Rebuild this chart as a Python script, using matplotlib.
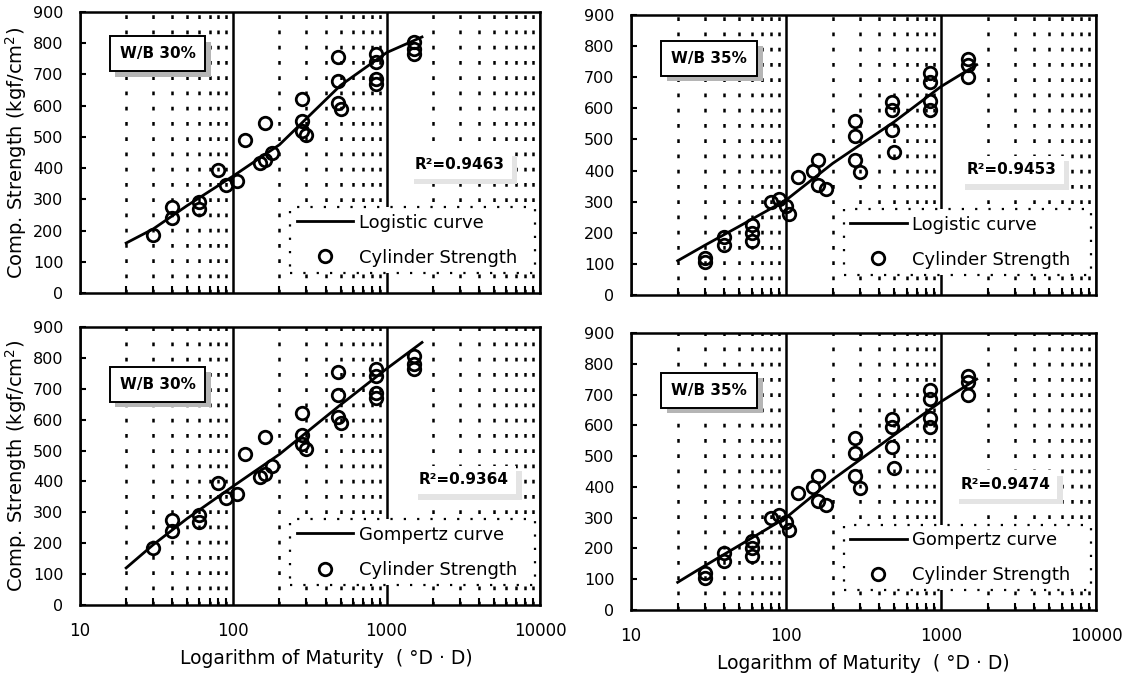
import matplotlib
matplotlib.use("Agg")
import matplotlib.pyplot as plt
import matplotlib.patheffects as pe
from matplotlib.ticker import LogLocator, NullFormatter, FixedLocator

plt.rcParams['font.family'] = ['DejaVu Sans']

maturity_30 = [30, 40, 40, 60, 60, 80, 90, 105, 120, 150, 160, 160, 180,
               280, 280, 280, 300, 480, 480, 480, 500, 850, 850, 850, 850,
               1500, 1500, 1500]
strength_30 = [185, 275, 240, 290, 270, 395, 345, 360, 490, 415, 545, 425, 450,
               620, 550, 520, 505, 755, 680, 610, 590, 765, 740, 685, 670,
               805, 780, 765]

maturity_35 = [30, 30, 40, 40, 60, 60, 60, 80, 90, 100, 105, 120, 150, 160, 160,
               180, 280, 280, 280, 300, 480, 480, 480, 500, 850, 850, 850, 850,
               1500, 1500, 1500]
strength_35 = [120, 105, 185, 160, 225, 200, 175, 300, 310, 285, 260, 380, 400,
               435, 355, 340, 560, 510, 435, 395, 620, 595, 530, 460, 715, 685,
               625, 595, 760, 740, 700]

# fitted curves
curve_x = [20, 30, 50, 100, 200, 500, 1000, 1700]
logistic_30 = [160, 205, 280, 375, 475, 665, 770, 820]
logistic_35 = [110, 160, 221, 305, 423, 557, 670, 740]
gompertz_30 = [120, 195, 280, 385, 488, 648, 765, 850]
gompertz_35 = [90, 144, 210, 300, 424, 569, 677, 750]

W, H = 1136, 675
fig = plt.figure(figsize=(W / 100, H / 100), dpi=100)

PANELS = [
    # box = (left, top, right, bottom) in pixels
    dict(box=(80, 12, 540, 293), mx=maturity_30, sy=strength_30, cy=logistic_30,
         curve="Logistic curve", wb="W/B 30%", wb_y=767, r2="R²=0.9463", r2_xy=(3000, 412),
         xlabels=False, ylabel=True),
    dict(box=(631, 15, 1096, 295), mx=maturity_35, sy=strength_35, cy=logistic_35,
         curve="Logistic curve", wb="W/B 35%", wb_y=761, r2="R²=0.9453", r2_xy=(2860, 402),
         xlabels=False, ylabel=False),
    dict(box=(80, 327, 540, 605), mx=maturity_30, sy=strength_30, cy=gompertz_30,
         curve="Gompertz curve", wb="W/B 30%", wb_y=715, r2="R²=0.9364", r2_xy=(3200, 405),
         xlabels=True, ylabel=True),
    dict(box=(631, 333, 1096, 610), mx=maturity_35, sy=strength_35, cy=gompertz_35,
         curve="Gompertz curve", wb="W/B 35%", wb_y=714, r2="R²=0.9474", r2_xy=(2610, 408),
         xlabels=True, ylabel=False),
]


def label_box(ax, x, y, s, box_ec, shadow_fc, pad):
    t = ax.text(x, y, s, ha='center', va='center', fontsize=11, fontweight='bold',
                zorder=7, bbox=dict(boxstyle=f'square,pad={pad}', fc='white',
                                    ec=box_ec, lw=1.4))
    t.get_bbox_patch().set_path_effects([
        pe.SimplePatchShadow(offset=(4, -4), shadow_rgbFace=shadow_fc, alpha=1),
        pe.Normal()])


for p in PANELS:
    l, t, r, b = p["box"]
    ax = fig.add_axes([l / W, 1 - b / H, (r - l) / W, (b - t) / H])
    ax.set_xscale('log')
    ax.set_xlim(10, 10000)
    ax.set_ylim(0, 900)
    ax.set_yticks(range(0, 901, 100))
    ax.xaxis.set_major_locator(FixedLocator([10, 100, 1000, 10000]))
    ax.xaxis.set_minor_locator(LogLocator(base=10, subs=range(2, 10)))
    ax.xaxis.set_minor_formatter(NullFormatter())
    if p["xlabels"]:
        ax.set_xticklabels(['10', '100', '1000', '10000'])
        ax.set_xlabel('Logarithm of Maturity  ( °D · D)', fontsize=13.5)
        ax.xaxis.set_label_coords(0.535 if p["ylabel"] else 0.5, -0.16)
    else:
        ax.set_xticklabels([])
    ax.tick_params(axis='x', which='both', direction='in', top=False, labelsize=12, pad=12)
    ax.tick_params(axis='x', which='minor', length=5, width=1.5)
    ax.tick_params(axis='x', which='major', length=0)
    ax.tick_params(axis='y', direction='in', length=4, width=1.5, labelsize=11.5, pad=12)
    if p["ylabel"]:
        ax.set_ylabel('Comp. Strength (kgf/cm$^2$)', fontsize=14, labelpad=3)
    for sp in ax.spines.values():
        sp.set_linewidth(1.8)

    ax.grid(which='minor', axis='x', color='black', linestyle=(0, (1.5, 4.6)), lw=1.8)
    ax.grid(which='major', axis='x', color='black', linestyle='-', lw=1.8)
    ax.set_axisbelow(True)

    ax.plot(curve_x, p["cy"], color='black', lw=2, label=p["curve"], zorder=3)
    ax.plot(p["mx"], p["sy"], linestyle='none', marker='o', ms=9, mfc='none',
            mec='black', mew=2, label='Cylinder Strength', zorder=4)

    label_box(ax, 32, p["wb_y"], p["wb"], 'black', '#b5b5b5', 0.65)
    label_box(ax, p["r2_xy"][0], p["r2_xy"][1], p["r2"], 'none', '#e4e4e4', 0.45)

    leg = ax.legend(loc='lower left', bbox_to_anchor=(0.457, 0.071, 0.532, 0.26),
                    mode='expand', borderaxespad=0, fontsize=13, handlelength=3.15,
                    handletextpad=0.3, labelspacing=0.95, borderpad=0.35,
                    fancybox=False, framealpha=1, edgecolor='black')
    leg.get_frame().set_linestyle((0, (1, 5)))
    leg.get_frame().set_linewidth(1.6)
    leg.set_zorder(5)

fig.savefig('out.png', dpi=100, facecolor='white')
